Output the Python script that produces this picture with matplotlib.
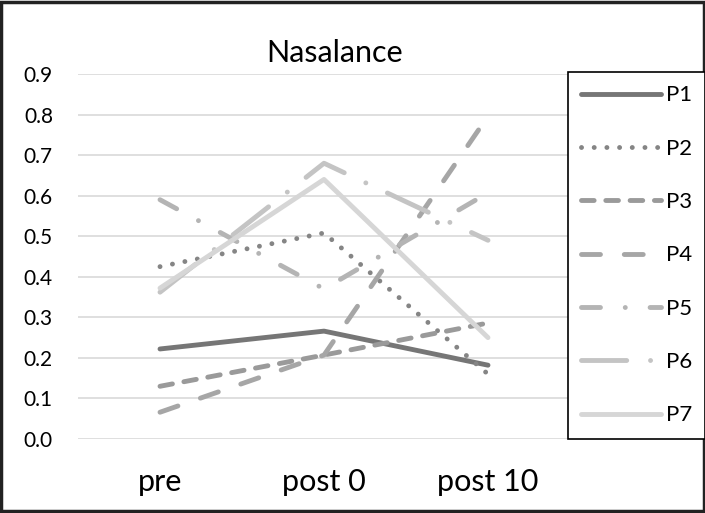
import numpy as np
import matplotlib
matplotlib.use("Agg")
import matplotlib.pyplot as plt
from matplotlib.patches import Rectangle

plt.rcParams['font.family'] = ['Lato', 'DejaVu Sans']

# Data
categories = ["pre", "post 0", "post 10"]
series = ["P1", "P2", "P3", "P4", "P5", "P6", "P7"]
p1 = [0.222, 0.266, 0.182]
p2 = [0.425, 0.508, 0.160]
p3 = [0.130, 0.207, 0.286]
p4 = [0.066, 0.207, 0.796]
p5 = [0.590, 0.370, 0.607]
p6 = [0.362, 0.680, 0.490]
p7 = [0.372, 0.640, 0.250]
values = [p1, p2, p3, p4, p5, p6, p7]

colors = ['#767676', '#858585', '#9a9a9a', '#a6a6a6', '#b4b4b4', '#c4c4c4', '#d6d6d6']
styles = [
    '-',
    (0, (0.01, 2.6)),
    (0, (2.6, 2.4)),
    (0, (3.9, 4.9)),
    (0, (3.9, 5.1, 0.01, 5.1)),
    (0, (9.3, 4.9, 0.01, 4.9)),
    '-',
]

W, H = 705, 513
fig = plt.figure(figsize=(W / 100, H / 100), dpi=100)
ax = fig.add_axes([78 / W, 1 - 439 / H, (570 - 78) / W, (439 - 74) / H])

x = np.arange(len(categories))
for name, v, c, ls in zip(series, values, colors, styles):
    ax.plot(x, v, color=c, linestyle=ls, linewidth=3.5,
            dash_capstyle='round', solid_capstyle='round', label=name)

ax.set_xlim(-0.5, 2.5)
ax.set_ylim(0, 0.9)
ax.set_yticks(np.arange(0, 0.91, 0.1))
ax.set_yticklabels([f"{t:.1f}" for t in np.arange(0, 0.91, 0.1)], fontsize=15)
ax.set_xticks(x)
ax.set_xticklabels(categories, fontsize=22)
ax.tick_params(axis='y', length=0, pad=18)
ax.tick_params(axis='x', length=0, pad=21)
ax.grid(axis='y', color='#d9d9d9', linewidth=1.2)
ax.set_axisbelow(True)
for s in ax.spines.values():
    s.set_visible(False)

fig.text(335 / W, 1 - 62 / H, "Nasalance", fontsize=22, ha='center', va='baseline')

leg = fig.legend(loc='upper left', bbox_to_anchor=(568 / W, 1 - 72 / H), borderaxespad=0,
                 fontsize=16, handlelength=3.6, handletextpad=0.2,
                 labelspacing=1.5, borderpad=0.6, fancybox=False, framealpha=1)
leg.get_frame().set_edgecolor('black')
leg.get_frame().set_linewidth(1.2)

fig.patches.append(Rectangle((0.002, 0.003), 0.996, 0.994, transform=fig.transFigure,
                             fill=False, edgecolor='#222222', linewidth=2.5))

fig.savefig("out.png", dpi=100)
